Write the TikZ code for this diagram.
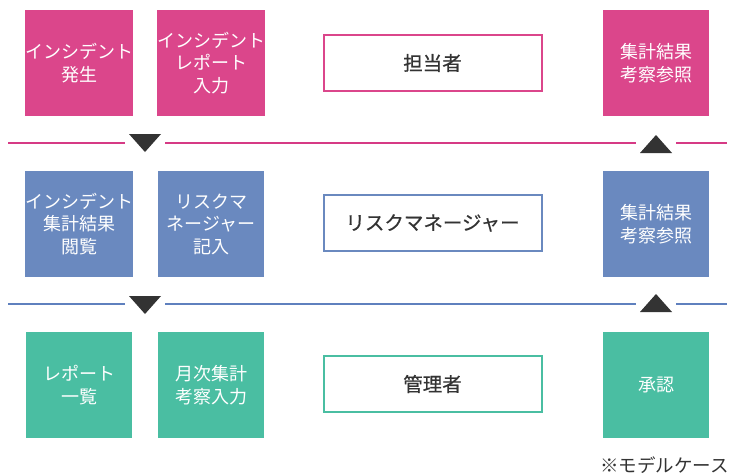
\documentclass[tikz,border=0pt]{standalone}
\usepackage{fontspec}
\setmainfont{Noto Sans CJK JP}
\newfontfamily\rolefont{Noto Sans CJK JP}[FakeBold=0.6]
\definecolor{cpink}{HTML}{DB468B}
\definecolor{cblue}{HTML}{6A89BF}
\definecolor{cgreen}{HTML}{4ABEA2}
\definecolor{lpink}{HTML}{D63A85}
\definecolor{lblue}{HTML}{5F80BE}
\definecolor{ctri}{HTML}{333333}
\definecolor{ctext}{HTML}{333333}
\tikzset{
  sq/.style={minimum width=106pt,minimum height=106pt,inner sep=0pt,text=white,align=center,font=\fontsize{18}{22.5}\selectfont},
  pinkbox/.style={sq,fill=cpink},
  bluebox/.style={sq,fill=cblue},
  greenbox/.style={sq,fill=cgreen},
  rolebox/.style={minimum width=218pt,minimum height=56pt,inner sep=0pt,line width=2pt,fill=white,text=ctext,font=\rolefont\fontsize{19.5}{22}\selectfont},
  sepline/.style={line width=2pt},
  tri/.style={fill=ctri,draw=none}
}
\begin{document}
\begin{tikzpicture}[x=1pt,y=-1pt]
\useasboundingbox (0,0) rectangle (731,475);
% row 1
\node[pinkbox] (p1) at (79,63) {インシデント\\発生};
\node[pinkbox] (p2) at (211,63) {インシデント\\レポート\\入力};
\node[rolebox,draw=cpink] (r1) at (432.5,63) {担当者};
\node[pinkbox] (p3) at (656,63) {集計結果\\考察参照};
% separator 1
\coordinate (a1) at (8,143);
\coordinate (a2) at (125,143);
\coordinate (a3) at (165,143);
\coordinate (a4) at (636,143);
\coordinate (a5) at (676,143);
\coordinate (a6) at (727,143);
\draw[sepline,lpink] (a1) -- (a2);
\draw[sepline,lpink] (a3) -- (a4);
\draw[sepline,lpink] (a5) -- (a6);
\coordinate (t1a) at (129,134);
\coordinate (t1b) at (161,134);
\coordinate (t1c) at (145,152);
\fill[tri] (t1a) -- (t1b) -- (t1c) -- cycle;
\coordinate (u1a) at (640,153);
\coordinate (u1b) at (672,153);
\coordinate (u1c) at (656,135);
\fill[tri] (u1a) -- (u1b) -- (u1c) -- cycle;
% row 2
\node[bluebox] (b1) at (79,224) {インシデント\\集計結果\\閲覧};
\node[bluebox] (b2) at (211,224) {リスクマ\\ネージャー\\記入};
\node[rolebox,draw=cblue] (r2) at (432.5,223) {リスクマネージャー};
\node[bluebox] (b3) at (656,224) {集計結果\\考察参照};
% separator 2
\coordinate (c1) at (8,304);
\coordinate (c2) at (125,304);
\coordinate (c3) at (165,304);
\coordinate (c4) at (636,304);
\coordinate (c5) at (676,304);
\coordinate (c6) at (727,304);
\draw[sepline,lblue] (c1) -- (c2);
\draw[sepline,lblue] (c3) -- (c4);
\draw[sepline,lblue] (c5) -- (c6);
\coordinate (t2a) at (129,296);
\coordinate (t2b) at (161,296);
\coordinate (t2c) at (145,314);
\fill[tri] (t2a) -- (t2b) -- (t2c) -- cycle;
\coordinate (u2a) at (640,312);
\coordinate (u2b) at (672,312);
\coordinate (u2c) at (656,294);
\fill[tri] (u2a) -- (u2b) -- (u2c) -- cycle;
% row 3
\node[greenbox] (g1) at (79,385) {レポート\\一覧};
\node[greenbox] (g2) at (211,385) {月次集計\\考察入力};
\node[rolebox,draw=cgreen] (r3) at (432.5,384) {管理者};
\node[greenbox] (g3) at (656,385) {承認};
% note
\node[anchor=east,inner sep=0pt,text=ctext,font=\fontsize{18.5}{20}\selectfont] (note) at (729,465) {※モデルケース};
\end{tikzpicture}
\end{document}
